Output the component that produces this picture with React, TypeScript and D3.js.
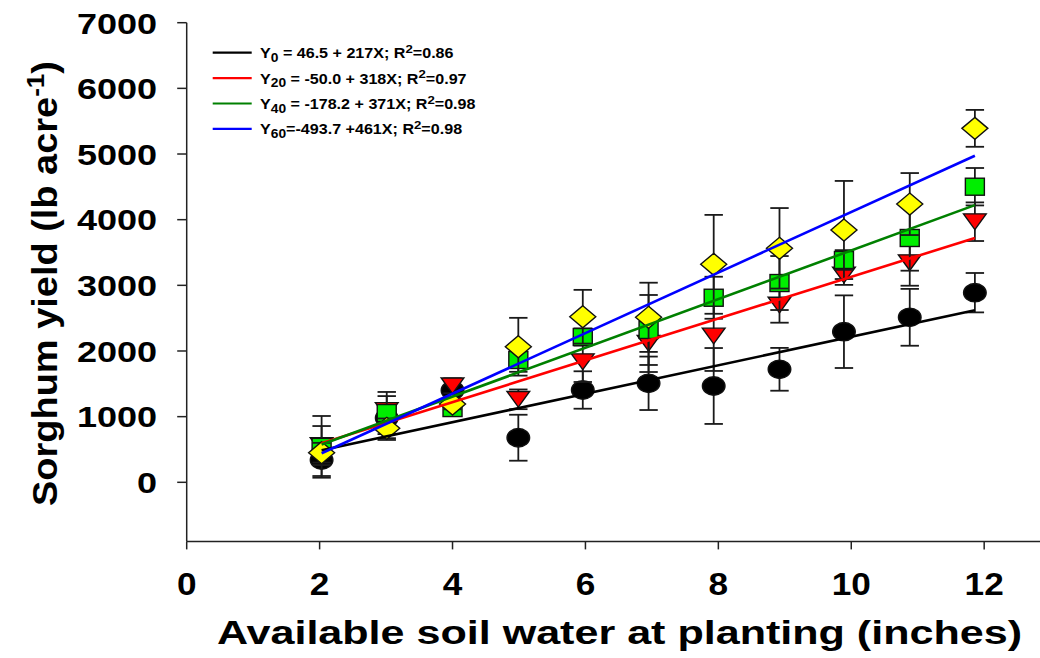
import React from "react";
import * as d3 from "d3";

// ---- data ----
const xVals = [2.03, 3.01, 4.0, 4.99, 5.96, 6.95, 7.93, 8.92, 9.89, 10.88, 11.86];
const y0 = [340, 979, 1400, 679, 1406, 1508, 1467, 1721, 2294, 2513, 2888];
const y0Err = [244, 334, 138, 350, 285, 407, 578, 326, 553, 433, 300];
const y20 = [560, 1094, 1470, 1264, 1837, 2117, 2228, 2700, 3157, 3345, 3969];
const y20Err = [297, 115, 113, 150, 309, 437, 532, 269, 150, 351, 294];
const y40 = [540, 1055, 1131, 1863, 2213, 2320, 2811, 3035, 3386, 3721, 4502];
const y40Err = [470, 321, 100, 180, 130, 533, 320, 411, 150, 498, 285];
const y60 = [451, 822, 1192, 2065, 2522, 2513, 3320, 3564, 3843, 4238, 5391];
const y60Err = [150, 150, 80, 440, 409, 527, 753, 613, 747, 472, 281];

const intercepts = [46.5, -50.0, -178.2, -493.7];
const slopes = [217, 318, 371, 461];

const legendSubs = ["0", "20", "40", "60"];
const legendEqs = [" = 46.5 + 217X; R", " = -50.0 + 318X; R", " = -178.2 + 371X; R", "=-493.7 +461X; R"];
const legendR2 = ["=0.86", "=0.97", "=0.98", "=0.98"];

const yTicks = [0, 1000, 2000, 3000, 4000, 5000, 6000, 7000];
const xTicks = [0, 2, 4, 6, 8, 10, 12];

const xTitle = "Available soil water at planting (inches)";
const yTitleMain = "Sorghum yield (lb acre";
const yTitleSup = "-1";

// ---- styles ----
const W = 1040;
const H = 658;
const FONT = "'Liberation Sans', Arial, Helvetica, sans-serif";
const lineColors = ["#000000", "#ff0000", "#008000", "#0000ff"];
const markerFills = ["#000000", "#ff0000", "#00ee00", "#ffff00"];
const markerKinds = ["circle", "triangle", "square", "diamond"];

const series = [
  { values: y0, errs: y0Err },
  { values: y20, errs: y20Err },
  { values: y40, errs: y40Err },
  { values: y60, errs: y60Err },
];

const xScale = d3.scaleLinear().domain([0, 12.84]).range([186.7, 1040]);
const yScale = d3.scaleLinear().domain([-900, 7000]).range([541.4, 22.7]);

function Marker({ kind, cx, cy, fill }: { kind: string; cx: number; cy: number; fill: string }) {
  const stroke = "#111";
  const sw = 1.4;
  if (kind === "circle") {
    return <ellipse cx={cx} cy={cy} rx={11.3} ry={9.2} fill={fill} stroke={stroke} strokeWidth={sw} />;
  }
  if (kind === "triangle") {
    const w = 22.7, h = 15.7;
    const pts = [
      [cx - w / 2, cy - h / 2],
      [cx + w / 2, cy - h / 2],
      [cx, cy + h / 2],
    ];
    return <polygon points={pts.map((p) => p.join(",")).join(" ")} fill={fill} stroke={stroke} strokeWidth={sw} />;
  }
  if (kind === "square") {
    const w = 19, h = 17;
    return <rect x={cx - w / 2} y={cy - h / 2} width={w} height={h} fill={fill} stroke={stroke} strokeWidth={sw} />;
  }
  const w = 26, h = 22;
  const pts = [
    [cx, cy - h / 2],
    [cx + w / 2, cy],
    [cx, cy + h / 2],
    [cx - w / 2, cy],
  ];
  return <polygon points={pts.map((p) => p.join(",")).join(" ")} fill={fill} stroke={stroke} strokeWidth={sw} />;
}

export default function App() {
  const axisX = xScale(0);
  const axisY = yScale(-900);
  const capHalf = 9.2;

  const xMin = d3.min(xVals) as number;
  const xMax = d3.max(xVals) as number;

  return (
    <svg
      width={W}
      height={H}
      viewBox={`0 0 ${W} ${H}`}
      style={{ position: "absolute", left: 0, top: 0, background: "#fff" }}
      fontFamily={FONT}
    >
      <rect x={0} y={0} width={W} height={H} fill="#fff" />

      {/* axes */}
      <line x1={axisX} y1={yScale(7000)} x2={axisX} y2={axisY} stroke="#222" strokeWidth={1.5} />
      <line x1={axisX} y1={axisY} x2={W} y2={axisY} stroke="#222" strokeWidth={1.5} />
      {yTicks.map((t) => (
        <g key={"yt" + t}>
          <line x1={axisX - 9.5} x2={axisX} y1={yScale(t)} y2={yScale(t)} stroke="#222" strokeWidth={1.5} />
          <text
            transform={`translate(157,${yScale(t) + 10.8}) scale(1.2,1)`}
            textAnchor="end"
            fontSize={30}
            fontWeight="bold"
            fill="#000"
          >
            {t}
          </text>
        </g>
      ))}
      {xTicks.map((t) => (
        <g key={"xt" + t}>
          <line x1={xScale(t)} x2={xScale(t)} y1={axisY} y2={axisY + 8} stroke="#222" strokeWidth={1.5} />
          <text
            transform={`translate(${xScale(t)},595) scale(1.1,1)`}
            textAnchor="middle"
            fontSize={32}
            fontWeight="bold"
            fill="#000"
          >
            {t}
          </text>
        </g>
      ))}

      {/* axis titles */}
      <text
        x={619.5}
        y={643.5}
        textAnchor="middle"
        fontSize={33}
        fontWeight="bold"
        textLength={805}
        lengthAdjust="spacingAndGlyphs"
      >
        {xTitle}
      </text>
      <text
        transform={`translate(57,283.5) rotate(-90) scale(1.085,1)`}
        textAnchor="middle"
        fontSize={35}
        fontWeight="bold"
      >
        {yTitleMain}
        <tspan fontSize={24} dy={-13}>
          {yTitleSup}
        </tspan>
        <tspan dy={13}>)</tspan>
      </text>

      {/* error bars and markers */}
      {series.map((s, si) => (
        <g key={"s" + si}>
          {s.values.map((v, i) => {
            const cx = xScale(xVals[i]);
            const yt = yScale(v + s.errs[i]);
            const yb = yScale(v - s.errs[i]);
            return (
              <g key={"e" + i} stroke="#1a1a1a" strokeWidth={1.8}>
                <line x1={cx} x2={cx} y1={yt} y2={yb} />
                <line x1={cx - capHalf} x2={cx + capHalf} y1={yt} y2={yt} />
                <line x1={cx - capHalf} x2={cx + capHalf} y1={yb} y2={yb} />
              </g>
            );
          })}
          {s.values.map((v, i) => (
            <Marker key={"m" + i} kind={markerKinds[si]} cx={xScale(xVals[i])} cy={yScale(v)} fill={markerFills[si]} />
          ))}
        </g>
      ))}

      {/* regression lines */}
      {intercepts.map((b, k) => {
        const pts: [number, number][] = [
          [xScale(xMin), yScale(b + slopes[k] * xMin)],
          [xScale(xMax), yScale(b + slopes[k] * xMax)],
        ];
        const path = d3.line()(pts) as string;
        return <path key={"r" + k} d={path} fill="none" stroke={lineColors[k]} strokeWidth={2.6} />;
      })}

      {/* legend */}
      {legendSubs.map((sub, k) => {
        const ly = 52.7 + k * 25.4;
        return (
          <g key={"lg" + k}>
            <line x1={212.7} x2={251.7} y1={ly} y2={ly} stroke={lineColors[k]} strokeWidth={2.2} />
            <text
              transform={`translate(260,${ly + 5.5}) scale(1.15,1)`}
              fontSize={14}
              fontWeight="bold"
              fill="#000"
            >
              Y
              <tspan fontSize={12} dy={3.5}>
                {sub}
              </tspan>
              <tspan dy={-3.5}>{legendEqs[k]}</tspan>
              <tspan fontSize={11.5} dy={-5.5}>
                2
              </tspan>
              <tspan dy={5.5}>{legendR2[k]}</tspan>
            </text>
          </g>
        );
      })}
    </svg>
  );
}
